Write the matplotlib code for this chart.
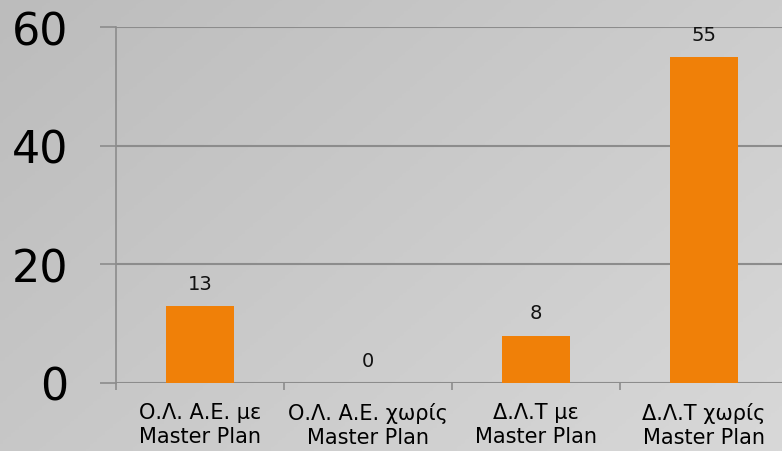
import numpy as np
import matplotlib.pyplot as plt
from matplotlib.colors import LinearSegmentedColormap

categories = ['Ο.Λ. Α.Ε. με\nMaster Plan', 'Ο.Λ. Α.Ε. χωρίς\nMaster Plan',
              'Δ.Λ.Τ με\nMaster Plan', 'Δ.Λ.Τ χωρίς\nMaster Plan']
values = [13, 0, 8, 55]
yticks = [0, 20, 40, 60]

plt.rcParams['font.family'] = ['DejaVu Sans']

fig = plt.figure(figsize=(7.82, 4.52), dpi=100)

# gray gradient background
bg = fig.add_axes([0, 0, 1, 1], zorder=0)
gx, gy = np.meshgrid(np.linspace(0, 1, 200), np.linspace(0, 1, 200))
grad = 0.6 * gx + 0.4 * gy
cmap = LinearSegmentedColormap.from_list('bg', ['#bcbcbc', '#d8d8d8'])
bg.imshow(grad, cmap=cmap, aspect='auto', extent=[0, 1, 0, 1], origin='upper')
bg.axis('off')

ax = fig.add_axes([116 / 782, 68 / 452, 672 / 782, 356 / 452], zorder=1)
ax.patch.set_alpha(0)

x = np.arange(len(categories))
bars = ax.bar(x, values, width=0.4, color='#f08008', zorder=3)
for xi, v in zip(x, values):
    ax.text(xi, v + 2.2, str(v), ha='center', va='bottom', fontsize=14, color='#111111')

ax.set_xlim(-0.5, len(categories) - 0.5)
ax.set_ylim(0, 60)
ax.set_yticks(yticks)
ax.set_yticklabels([str(t) for t in yticks], fontsize=32)
ax.tick_params(axis='y', length=11.5, width=1.2, color='#8c8c8c', pad=23, labelcolor='black')

ax.set_xticks(np.arange(-0.5, len(categories), 1.0))
ax.set_xticklabels([])
ax.set_xticks(x, minor=True)
ax.set_xticklabels(categories, minor=True, fontsize=15, linespacing=1.2)
ax.tick_params(axis='x', which='minor', length=0, pad=14)
ax.tick_params(axis='x', which='major', length=5, width=1.2, color='#8c8c8c')

for t in yticks:
    ax.axhline(t, color='#8c8c8c', linewidth=1.5, zorder=2)

for s in ['top', 'right', 'bottom']:
    ax.spines[s].set_visible(False)
ax.spines['left'].set_color('#8c8c8c')
ax.spines['left'].set_linewidth(1.2)
ax.spines['left'].set_bounds(0, 60)

fig.savefig('out.png', dpi=100)
